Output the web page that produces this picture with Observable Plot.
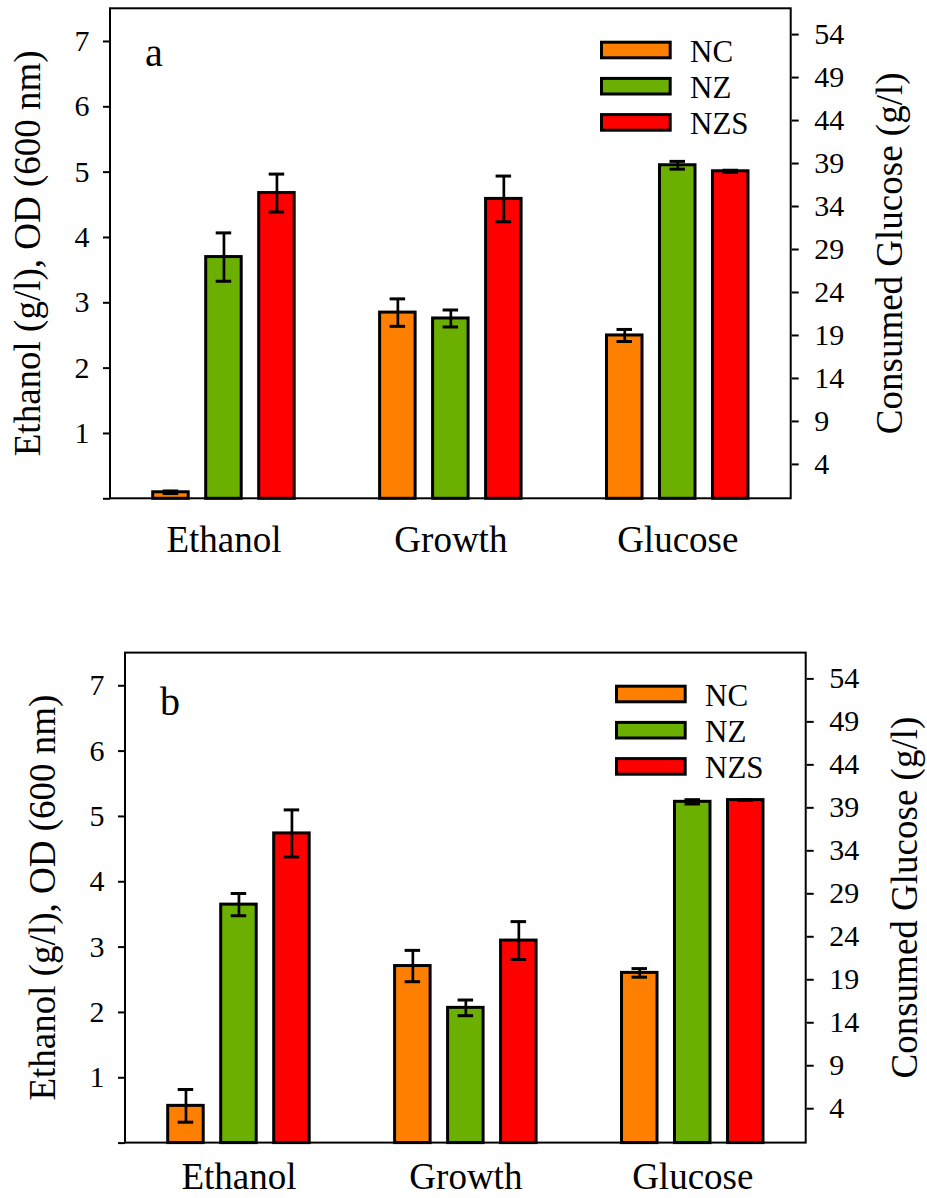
<!DOCTYPE html>
<html><head><meta charset="utf-8">
<script src="https://cdn.jsdelivr.net/npm/d3@7"></script>
<script src="https://cdn.jsdelivr.net/npm/@observablehq/plot@0.6"></script>
<style>
body{margin:0;background:#fff;}
.panel{position:relative;width:927px;}
.panel svg{display:block;}
.panel svg, .panel svg text{font-family:"Liberation Serif","Times New Roman",Times,"Nimbus Roman","DejaVu Serif",serif !important;}
.panel svg.overlay{position:absolute;left:0;top:0;pointer-events:none;overflow:visible;}
</style></head><body><div id="root"></div>
<script>
// ---- data ----
const categories = ["Ethanol", "Growth", "Glucose"];
const series = ["NC", "NZ", "NZS"];
const colors = ["#FF7F00", "#6BAF00", "#FF0000"];
const leftTicks = [0, 1, 2, 3, 4, 5, 6, 7];
const rightTicks = [4, 9, 14, 19, 24, 29, 34, 39, 44, 49, 54];
const yMax = 7.5;
const glucoseRatio = 7.6; // right axis (g/l) units per left-axis unit
const leftTitle = "Ethanol (g/l), OD (600 nm)";
const rightTitle = "Consumed Glucose (g/l)";

// panel a
const aEthanol = [0.10, 3.70, 4.68];
const aEthanolErr = [0.02, 0.37, 0.29];
const aGrowth = [2.85, 2.76, 4.59];
const aGrowthErr = [0.21, 0.13, 0.35];
const aGlucose = [19.0, 38.8, 38.1];       // g/l
const aGlucoseErr = [0.7, 0.45, 0.12];

// panel b
const bEthanol = [0.57, 3.65, 4.74];
const bEthanolErr = [0.25, 0.17, 0.36];
const bGrowth = [2.71, 2.07, 3.10];
const bGrowthErr = [0.24, 0.12, 0.29];
const bGlucose = [19.8, 39.7, 39.9];       // g/l
const bGlucoseErr = [0.5, 0.25, 0];

const FONT = '"Liberation Serif","Times New Roman",Times,"Nimbus Roman","DejaVu Serif",serif';

function rows(eth, ethE, gro, groE, glu, gluE) {
  const out = [];
  series.forEach((s, i) => {
    out.push({cat: "Ethanol", series: s, value: eth[i], err: ethE[i]});
    out.push({cat: "Growth", series: s, value: gro[i], err: groE[i]});
    out.push({cat: "Glucose", series: s, value: glu[i] / glucoseRatio, err: gluE[i] / glucoseRatio});
  });
  return out;
}

const NS = "http://www.w3.org/2000/svg";
function el(tag, attrs, text) {
  const e = document.createElementNS(NS, tag);
  for (const k in attrs) e.setAttribute(k, attrs[k]);
  if (text != null) e.textContent = text;
  return e;
}

function panel(data, letter, shift, height, marginTop, marginBottom, letterY, fxPad) {
  const div = document.createElement("div");
  div.className = "panel";
  div.style.height = height + "px";
  const ml = 110 + shift, mr = 927 - 790.7 - shift;
  const plot = Plot.plot({
    width: 927, height, marginLeft: ml, marginRight: mr, marginTop, marginBottom,
    style: {fontFamily: FONT, color: "black", background: "white", overflow: "visible"},
    fx: {domain: categories, padding: 0, round: false},
    x: {domain: series, paddingInner: 0.33, paddingOuter: 0.806, round: false, axis: null},
    y: {domain: [0, yMax]},
    color: {domain: series, range: colors},
    marks: [
      Plot.barY(data, {fx: "cat", x: "series", y: "value", fill: "series", stroke: "black", strokeWidth: 3}),
      Plot.ruleX(data, {fx: "cat", x: "series", y1: d => d.value - d.err, y2: d => d.value + d.err, stroke: "black", strokeWidth: 2.7}),
      Plot.tickY(data, {fx: "cat", x: "series", y: d => d.value + d.err, stroke: "black", strokeWidth: 3, insetLeft: 10, insetRight: 10}),
      Plot.tickY(data, {fx: "cat", x: "series", y: d => d.value - d.err, stroke: "black", strokeWidth: 3, insetLeft: 10, insetRight: 10}),
      Plot.axisY(leftTicks, {anchor: "left", tickSize: 7, tickPadding: 14, tickFormat: d => d === 0 ? "" : d, fontSize: 30, fontFamily: FONT, strokeWidth: 2, label: null}),
      Plot.axisY(rightTicks.map(v => v / glucoseRatio), {anchor: "right", tickSize: 7, tickPadding: 16, tickFormat: d => Math.round(d * glucoseRatio), fontSize: 30, fontFamily: FONT, strokeWidth: 2, label: null}),
      Plot.axisFx({anchor: "bottom", tickSize: 0, tickPadding: fxPad, fontSize: 37, fontFamily: FONT, label: null})
    ]
  });
  div.appendChild(plot);

  // overlay: frame, panel letter, legend, axis titles
  const ov = el("svg", {class: "overlay", width: 927, height: height});
  const innerH = height - marginTop - marginBottom;
  ov.appendChild(el("rect", {x: ml, y: marginTop, width: 927 - ml - mr, height: innerH, fill: "none", stroke: "black", "stroke-width": 2}));
  ov.appendChild(el("text", {x: 145 + shift, y: letterY, "font-size": 40, fill: "black"}, letter));
  series.forEach((s, i) => {
    ov.appendChild(el("rect", {x: 601.5 + shift, y: 42.2 + 36.2 * i, width: 68.7, height: 15.6, fill: colors[i], stroke: "black", "stroke-width": 3}));
    ov.appendChild(el("text", {x: 690 + shift, y: 61.7 + 36.2 * i, "font-size": 31, fill: "black"}, s));
  });
  const cy = marginTop + innerH / 2;
  ov.appendChild(el("text", {transform: `translate(${40 + shift},${cy}) rotate(-90)`, "text-anchor": "middle", "font-size": 37, fill: "black"}, leftTitle));
  ov.appendChild(el("text", {transform: `translate(${902 + shift},${cy}) rotate(-90)`, "text-anchor": "middle", "font-size": 37, fill: "black"}, rightTitle));
  div.appendChild(ov);
  return div;
}

const root = document.getElementById("root");
root.appendChild(panel(rows(aEthanol, aEthanolErr, aGrowth, aGrowthErr, aGlucose, aGlucoseErr), "a", 0, 644, 8.3, 145.7, 65.7, 27));
root.appendChild(panel(rows(bEthanol, bEthanolErr, bGrowth, bGrowthErr, bGlucose, bGlucoseErr), "b", 15, 554, 8.6, 55.4, 71, 20));
</script>
</body></html>
